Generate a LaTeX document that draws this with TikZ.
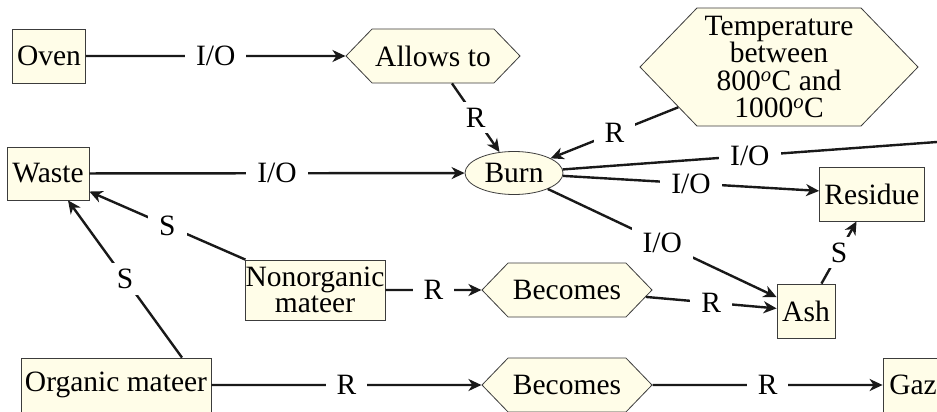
\documentclass[tikz,border=0pt]{standalone}
\usepackage{fontspec}
\setmainfont{Liberation Serif}
\usetikzlibrary{arrows.meta,shapes.symbols,shapes.geometric}
\definecolor{nodefill}{HTML}{FFFDE8}
\definecolor{nodeline}{HTML}{3C3C3C}
\begin{document}
\begin{tikzpicture}[x=1pt,y=-1pt,
  every node/.style={font=\fontsize{29.5}{26.5}\selectfont, align=center},
  box/.style={draw=nodeline, line width=0.8pt, fill=nodefill, rectangle, inner sep=0pt},
  hexa/.style={draw=nodeline, line width=0.8pt, fill=nodefill, signal, signal from=nowhere, signal to=east and west, signal pointer angle=92, inner sep=0pt},
  oval/.style={draw=nodeline, line width=0.8pt, fill=nodefill, ellipse, inner sep=0pt},
  conn/.style={line width=2.4pt, draw=black!90},
  arr/.style={conn, -{Stealth[length=13pt,width=12pt,inset=4pt]}},
  lbl/.style={fill=white, inner xsep=11pt, inner ysep=6pt, pos=0.5}]
\clip (0,0) rectangle (937,412);
\fill[white] (0,0) rectangle (937,412);
% nodes
\node[box, minimum width=73pt, minimum height=54pt] (oven) at (49,56) {Oven};
\node[hexa, minimum width=174pt, minimum height=54pt] (allows) at (433,56) {Allows to};
\node[hexa, minimum width=278pt, minimum height=118pt, font=\fontsize{29.5}{27.5}\selectfont] (temp) at (779,67) {Temperature\\between\\800\textsuperscript{\textit{o}}C and\\1000\textsuperscript{\textit{o}}C};
\node[oval, minimum width=98pt, minimum height=43pt] (burn) at (514,173) {Burn};
\node[box, minimum width=82pt, minimum height=53pt] (waste) at (48,173.5) {Waste};
\node[box, minimum width=105pt, minimum height=54pt] (residue) at (872,194) {Residue};
\node[box, minimum width=140pt, minimum height=60pt] (nonorg) at (315,290) {Nonorganic\\mateer};
\node[hexa, minimum width=170pt, minimum height=54pt] (bec1) at (567,290) {Becomes};
\node[box, minimum width=58pt, minimum height=54pt] (ash) at (806,311) {Ash};
\node[box, minimum width=190pt, minimum height=54pt] (org) at (116,385) {Organic mateer};
\node[hexa, minimum width=170pt, minimum height=54pt] (bec2) at (567,385) {Becomes};
\node[box, minimum width=60pt, minimum height=54pt] (gaz) at (913,385) {Gaz};
\coordinate (off) at (937,142);
% connectors
\draw[arr] (oven) -- node[lbl]{I/O} (allows);
\draw[arr] (allows) -- node[lbl]{R} (burn);
\draw[arr] (temp) -- node[lbl]{R} (burn);
\draw[arr] (waste) -- node[lbl]{I/O} (burn);
\draw[conn] (burn) -- node[lbl]{I/O} (off);
\draw[arr] (burn) -- node[lbl]{I/O} (residue);
\draw[arr] (burn) -- node[lbl]{I/O} (ash);
\draw[arr] (ash) -- node[lbl]{S} (residue);
\draw[arr] (nonorg) -- node[lbl]{S} (waste);
\draw[arr] ([xshift=66pt]org.north) -- node[lbl]{S} ([xshift=20pt]waste.south);
\draw[arr] (nonorg) -- node[lbl]{R} (bec1);
\draw[arr] (bec1) -- node[lbl]{R} (ash);
\draw[arr] (org) -- node[lbl]{R} (bec2);
\draw[arr] (bec2) -- node[lbl]{R} (gaz);
\end{tikzpicture}
\end{document}
